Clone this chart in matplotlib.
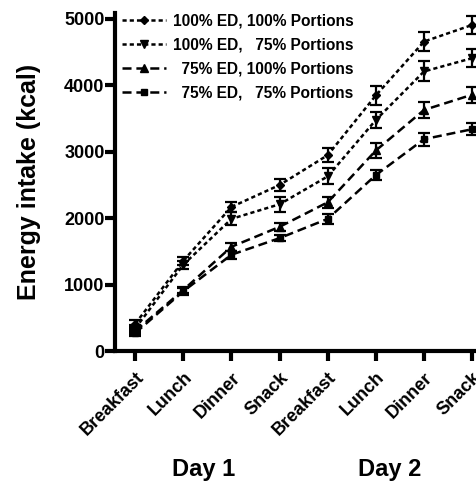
import matplotlib
matplotlib.use("Agg")
import matplotlib.pyplot as plt
import matplotlib.transforms as mtransforms

plt.rcParams['font.family'] = ['Liberation Sans', 'DejaVu Sans']
plt.rcParams['font.weight'] = 'bold'
plt.rcParams['lines.scale_dashes'] = False

meals = ["Breakfast", "Lunch", "Dinner", "Snack", "Breakfast", "Lunch", "Dinner", "Snack"]
days = ["Day 1", "Day 2"]

labels = ["100% ED, 100% Portions",
          "100% ED,   75% Portions",
          "  75% ED, 100% Portions",
          "  75% ED,   75% Portions"]

ed100_p100 = [410, 1360, 2170, 2500, 2950, 3850, 4660, 4910]
ed100_p75 = [340, 1300, 1990, 2210, 2630, 3480, 4210, 4410]
ed75_p100 = [300, 920, 1570, 1870, 2240, 3020, 3630, 3860]
ed75_p75 = [270, 900, 1450, 1700, 1990, 2650, 3190, 3340]

err_100_100 = [50, 60, 70, 90, 110, 140, 140, 135]
err_100_75 = [50, 60, 100, 110, 120, 120, 150, 135]
err_75_100 = [40, 50, 60, 60, 80, 110, 115, 120]
err_75_75 = [40, 50, 60, 50, 70, 80, 100, 90]

series = [ed100_p100, ed100_p75, ed75_p100, ed75_p75]
errors = [err_100_100, err_100_75, err_75_100, err_75_75]
markers = ["D", "v", "^", "s"]
msizes = [4.5, 5.5, 5.5, 4.5]
dotted = (0, (3.0, 2.2))
dashed = (0, (6.5, 3.5))
styles = [dotted, dotted, dashed, dashed]

fig = plt.figure(figsize=(4.77, 4.87), dpi=100)
ax = fig.add_axes([115 / 477, 136 / 487, 362 / 477, 338 / 487])

x = list(range(len(meals)))
handles = []
for vals, errs, m, ms, ls, lab in zip(series, errors, markers, msizes, styles, labels):
    c = ax.errorbar(x, vals, yerr=errs, color='black', marker=m, markersize=ms,
                    linestyle=ls, linewidth=1.8, elinewidth=1.6, capsize=4.2,
                    capthick=1.6, label=lab, clip_on=False)
    handles.append(c[0])

ax.set_xlim(-0.42, 7.1)
ax.set_ylim(0, 5090)
ax.set_yticks([0, 1000, 2000, 3000, 4000, 5000])
ax.set_xticks(x)
ax.set_xticklabels(meals, rotation=45, ha='right', rotation_mode='anchor',
                   fontsize=13, fontweight='bold')
offset = mtransforms.ScaledTranslation(-4 / 100, 0, fig.dpi_scale_trans)
for t in ax.get_xticklabels():
    t.set_transform(t.get_transform() + offset)
for t in ax.get_yticklabels():
    t.set_fontsize(13)
    t.set_fontweight('bold')

for s in ['top', 'right']:
    ax.spines[s].set_visible(False)
for s in ['left', 'bottom']:
    ax.spines[s].set_linewidth(3.0)
ax.tick_params(axis='both', width=3.0, length=7, direction='out', pad=0.5)
ax.tick_params(axis='x', pad=6)

ax.set_ylabel("Energy intake (kcal)", fontsize=18, fontweight='bold')
ax.yaxis.set_label_coords(-0.205, 0.5)

trans = ax.get_xaxis_transform()
ax.text(1.42, -0.352, days[0], transform=trans, ha='center', va='center',
        fontsize=17, fontweight='bold')
ax.text(5.29, -0.352, days[1], transform=trans, ha='center', va='center',
        fontsize=17, fontweight='bold')

leg = ax.legend(handles, labels, loc='upper left', bbox_to_anchor=(0.02, 1.0),
                frameon=False, fontsize=11.2, handlelength=2.8, handletextpad=0.45,
                labelspacing=0.58, borderpad=0, borderaxespad=0)
for t in leg.get_texts():
    t.set_fontweight('bold')

fig.savefig("out.png", dpi=100)
